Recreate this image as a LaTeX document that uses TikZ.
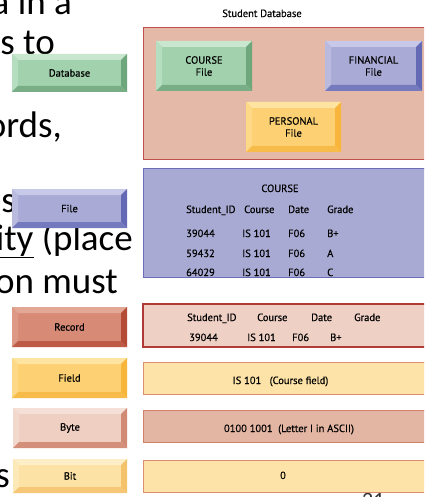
\documentclass[tikz,border=0pt]{standalone}
\usepackage{fontspec}
\setmainfont{PT Sans}[FakeBold=0.5]
\newfontfamily\slidefont{Carlito}
\definecolor{gface}{HTML}{A2D2AD}\definecolor{gtop}{HTML}{C9E7CF}\definecolor{gleft}{HTML}{B5DDBF}\definecolor{gright}{HTML}{6EA77C}\definecolor{gbot}{HTML}{78AD85}
\definecolor{bface}{HTML}{A9AAD6}\definecolor{btop}{HTML}{C8C9E9}\definecolor{bleft}{HTML}{B9BADE}\definecolor{bright}{HTML}{6469B5}\definecolor{bbot}{HTML}{7579BD}
\definecolor{rface}{HTML}{D78B77}\definecolor{rtop}{HTML}{E3A796}\definecolor{rleft}{HTML}{DD9985}\definecolor{rright}{HTML}{B44B36}\definecolor{rbot}{HTML}{BD5B47}
\definecolor{yface}{HTML}{FDD173}\definecolor{ytop}{HTML}{FEE3A1}\definecolor{yleft}{HTML}{FDD987}\definecolor{yright}{HTML}{F7B53B}\definecolor{ybot}{HTML}{F7BB4A}
\definecolor{pface}{HTML}{EFCFC2}\definecolor{ptop}{HTML}{F5E0D7}\definecolor{pleft}{HTML}{F2D8CD}\definecolor{pright}{HTML}{D08A76}\definecolor{pbot}{HTML}{D48F7B}
\definecolor{lface}{HTML}{FDE2A5}\definecolor{ltop}{HTML}{FEEEC8}\definecolor{lleft}{HTML}{FDE8B8}\definecolor{lright}{HTML}{F4C26B}\definecolor{lbot}{HTML}{F5C777}
\definecolor{dbfill}{HTML}{E5B9A7}\definecolor{dbline}{HTML}{C0504D}
\definecolor{crsfill}{HTML}{A9AAD3}\definecolor{crsline}{HTML}{6B6DB8}
\definecolor{recfill}{HTML}{EFD0C4}\definecolor{recline}{HTML}{B03A35}
\definecolor{fldfill}{HTML}{FDE3A7}\definecolor{fldline}{HTML}{DC8F70}
\definecolor{bytfill}{HTML}{E3B5A3}\definecolor{bytline}{HTML}{D2806A}
\begin{document}
\begin{tikzpicture}[x=1pt,y=-1pt,
  lab/.style={font=\fontsize{10.5}{12}\selectfont, inner sep=0, text=black},
  cell/.style={lab, anchor=base west},
  ctr/.style={lab, anchor=base},
  slide/.style={font=\slidefont\fontsize{37}{44}\selectfont, anchor=base east, inner sep=0},
  panel/.style 2 args={draw=#1, fill=#2, line width=1pt},
  bev/.style={rectangle, inner sep=0, fill=#1face, lab, align=center,
    path picture={
      \coordinate (bnw) at (path picture bounding box.north west);
      \coordinate (bne) at (path picture bounding box.north east);
      \coordinate (bse) at (path picture bounding box.south east);
      \coordinate (bsw) at (path picture bounding box.south west);
      \fill[#1top] (bnw) -- (bne) -- ([xshift=-6pt,yshift=-6pt]bne) -- ([xshift=6pt,yshift=-6pt]bnw) -- cycle;
      \fill[#1left] (bnw) -- ([xshift=6pt,yshift=-6pt]bnw) -- ([xshift=6pt,yshift=6pt]bsw) -- (bsw) -- cycle;
      \fill[#1right] (bne) -- (bse) -- ([xshift=-6pt,yshift=6pt]bse) -- ([xshift=-6pt,yshift=-6pt]bne) -- cycle;
      \fill[#1bot] (bsw) -- (bse) -- ([xshift=-6pt,yshift=6pt]bse) -- ([xshift=6pt,yshift=6pt]bsw) -- cycle;
    }}
]
\useasboundingbox (0,0) rectangle (424,497);
\clip (0,0) rectangle (424,497);
\fill[white] (0,0) rectangle (424,497);

% slide text fragments
\node[slide] (s1) at (72,15) {a in a};
\node[slide] (s2) at (55,55) {s to};
\node[slide] (s3) at (62,138) {ords,};
\node[slide] (s4) at (16,212) {s};
\node[slide] (s5) at (133,250) {\underline{ity} (place};
\node[slide] (s6) at (118,293) {on must};
\node[slide] (s7) at (10,487) {s};
\node[font=\slidefont\fontsize{22}{24}\selectfont, anchor=north west, inner sep=0, text=black!80] (pg) at (362,493) {21};

% left legend buttons
\node[bev=g, minimum width=115pt, minimum height=38pt] (lDatabase) at (69.5,73) {Database};
\node[bev=b, minimum width=115pt, minimum height=39pt] (lFile) at (69.5,208.5) {File};
\node[bev=r, minimum width=115pt, minimum height=40pt] (lRecord) at (69.5,327) {Record};
\node[bev=y, minimum width=115pt, minimum height=40pt] (lField) at (69.5,378) {Field};
\node[bev=p, minimum width=114pt, minimum height=40pt] (lByte) at (70,428) {Byte};
\node[bev=l, minimum width=114pt, minimum height=34pt] (lBit) at (70,476) {Bit};

% Student database
\node[ctr] (title) at (262,17) {Student Database};
\path[panel={dbline}{dbfill}] (143,28) rectangle (440,159);
\node[bev=g, minimum width=96pt, minimum height=50pt] (course) at (204,66) {COURSE\\File};
\node[bev=b, minimum width=97pt, minimum height=50pt] (financial) at (373.5,66) {FINANCIAL\\File};
\node[bev=y, minimum width=95pt, minimum height=50pt] (personal) at (293.5,127) {PERSONAL\\File};

% COURSE file
\path[panel={crsline}{crsfill}] (143,168) rectangle (440,277);
\node[ctr] (ct) at (280,192) {COURSE};
\node[cell] at (186,213) {Student\_ID};
\node[cell] at (244,213) {Course};
\node[cell] at (288,213) {Date};
\node[cell] at (327,213) {Grade};
\node[cell] at (186,237) {39044};
\node[cell] at (242,237) {IS 101};
\node[cell] at (288,237) {F06};
\node[cell] at (327,237) {B+};
\node[cell] at (186,257) {59432};
\node[cell] at (242,257) {IS 101};
\node[cell] at (288,257) {F06};
\node[cell] at (327,257) {A};
\node[cell] at (186,276) {64029};
\node[cell] at (242,276) {IS 101};
\node[cell] at (288,276) {F06};
\node[cell] at (327,276) {C};

% record
\path[panel={recline}{recfill}, line width=1.4pt] (143,304) rectangle (440,347);
\node[cell] at (187,321) {Student\_ID};
\node[cell] at (257,321) {Course};
\node[cell] at (311,321) {Date};
\node[cell] at (354,321) {Grade};
\node[cell] at (189,341) {39044};
\node[cell] at (247,341) {IS 101};
\node[cell] at (292,341) {F06};
\node[cell] at (330,341) {B+};

% field
\path[panel={fldline}{fldfill}] (143,362) rectangle (440,394);
\node[ctr] (fld) at (280.5,384) {IS 101\ \ \ (Course field)};
% byte
\path[panel={bytline}{bytfill}] (143,410) rectangle (440,442);
\node[ctr] (byt) at (289,432) {0100 1001\ \ (Letter I in ASCII)};
% bit
\path[panel={fldline}{fldfill}] (143,460) rectangle (440,492);
\node[ctr] (bit) at (283,479) {0};
\end{tikzpicture}
\end{document}
